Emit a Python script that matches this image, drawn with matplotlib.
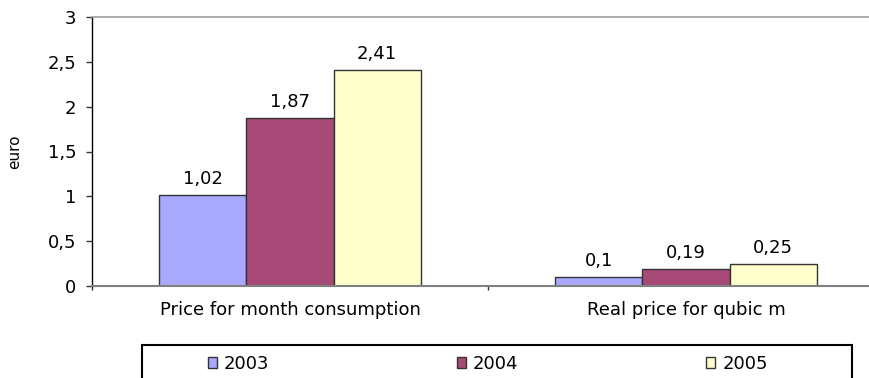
import matplotlib
matplotlib.use('Agg')
import matplotlib.pyplot as plt
from matplotlib.patches import Patch, Rectangle
import numpy as np

categories = ['Price for month consumption', 'Real price for qubic m']
years = ['2003', '2004', '2005']
values_2003 = [1.02, 0.1]
values_2004 = [1.87, 0.19]
values_2005 = [2.41, 0.25]
colors = ['#a9a9ff', '#a84a78', '#ffffcc']
yticks = [0, 0.5, 1, 1.5, 2, 2.5, 3]

FS = 13


def comma(v):
    # decimal comma, no trailing zeros
    return ('%g' % v).replace('.', ',')


fig = plt.figure(figsize=(8.7, 3.78), dpi=100)
# plot area is wider than the figure on the right side
ax = fig.add_axes([92 / 870, 92 / 378, 792 / 870, 269 / 378])

x = np.arange(len(categories))
width = 0.22
series = [values_2003, values_2004, values_2005]
for i, vals in enumerate(series):
    bars = ax.bar(x + (i - 1) * width, vals, width=width, color=colors[i],
                  edgecolor='#333333', linewidth=1, label=years[i])
    for bar in bars:
        ax.annotate(comma(bar.get_height()),
                    (bar.get_x() + bar.get_width() / 2, bar.get_height()),
                    xytext=(0, 5), textcoords='offset points',
                    ha='center', va='bottom', fontsize=FS)

ax.set_xlim(-0.5, 1.5)
ax.set_ylim(0, 3)
ax.set_yticks(yticks)
ax.set_yticklabels([comma(v) for v in yticks], fontsize=FS)
ax.tick_params(axis='y', length=4.3, width=1, pad=7, color='#333333')

# category boundaries get tick marks, the names sit in between
ax.set_xticks([-0.5, 0.5, 1.5])
ax.set_xticklabels([])
ax.set_xticks(x, minor=True)
ax.set_xticklabels(categories, minor=True, fontsize=FS)
ax.tick_params(axis='x', which='major', length=3, width=1, color='#333333')
ax.tick_params(axis='x', which='minor', length=0, pad=10.5)

ax.set_ylabel('euro', fontsize=11)
ax.yaxis.set_label_coords(-0.088, 0.5)

ax.spines['left'].set_color('black')
ax.spines['left'].set_linewidth(1)
ax.spines['bottom'].set_color('#808080')
ax.spines['bottom'].set_linewidth(1.5)
ax.spines['top'].set_color('#a0a0a0')
ax.spines['top'].set_linewidth(1.2)
ax.spines['right'].set_visible(False)

# legend box along the bottom
fig.patches.append(Rectangle((142 / 870, -0.05), 710 / 870, (378 - 345) / 378 + 0.05,
                             transform=fig.transFigure, fill=False,
                             edgecolor='black', linewidth=1.5))
handles = [Patch(facecolor=c, edgecolor='#333333', linewidth=1) for c in colors]
fig.legend(handles, years, loc='center left', bbox_to_anchor=(208 / 870, 1 - 364 / 378),
           ncol=3, frameon=False, fontsize=FS, handlelength=0.5, handleheight=0.5,
           handletextpad=0.38, columnspacing=10.4, borderpad=0, borderaxespad=0)

plt.savefig('out.png', dpi=100)
